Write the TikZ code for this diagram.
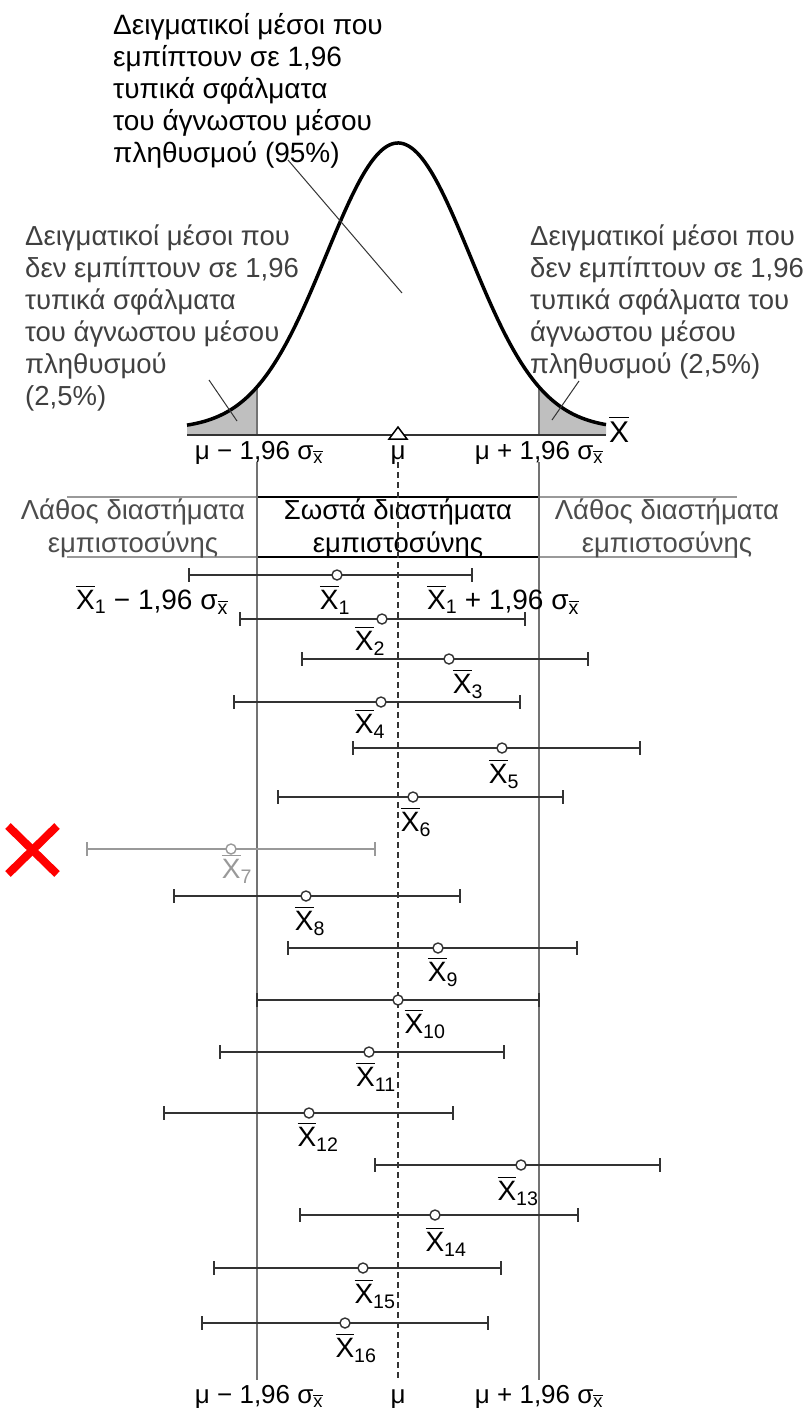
\documentclass[tikz,border=0pt]{standalone}
\usepackage{amsmath}
\usepackage{fontspec}
\setmainfont{Liberation Sans}
\usetikzlibrary{calc}

\newcommand{\xbar}[1]{$\overline{\text{X}}_{\text{#1}}$}
\newcommand{\sxbar}{σ$_{\overline{\text{x}}}$}

\begin{document}
\begin{tikzpicture}[x=1pt,y=-1pt,
    bigtext/.style={align=left,anchor=north west,inner sep=0pt,font=\fontsize{28}{32}\selectfont},
    sidetext/.style={bigtext,text=black!75,font=\fontsize{27.5}{32}\selectfont},
    bandtext/.style={align=center,inner sep=0pt,font=\fontsize{27.5}{33}\selectfont},
    axislabel/.style={anchor=base,inner sep=0pt,font=\fontsize{26}{30}\selectfont},
    meanlabel/.style={inner sep=0pt,font=\fontsize{28}{30}\selectfont},
    interval/.style={line width=2pt,black!80},
    limit/.style={line width=1.3pt,black!55}]
  \useasboundingbox (0,0) rectangle (810,1414);

  \fill[black!25] (187,435) -- plot[domain=187:257,samples=30,variable=\t] ({\t},{429-286*exp(-((\t-398)/72)^2/2)}) -- (257,435) -- cycle;
  \fill[black!25] (539,435) -- plot[domain=539:606,samples=30,variable=\t] ({\t},{429-286*exp(-((\t-398)/72)^2/2)}) -- (606,435) -- cycle;
  \draw[limit] (257,{429-286*exp(-((257-398)/72)^2/2)}) -- (257,435);
  \draw[limit] (539,{429-286*exp(-((539-398)/72)^2/2)}) -- (539,435);
  \draw[line width=3.5pt,smooth] plot[domain=187:606,samples=90,variable=\t] ({\t},{429-286*exp(-((\t-398)/72)^2/2)});
  \draw[line width=2.2pt,black!80] (187,435) -- (606,435);
  \draw[line width=1.5pt,fill=white] (389,439) -- (398,427) -- (407,439) -- cycle;
  \node[anchor=base west,inner sep=0pt,font=\fontsize{30}{30}\selectfont] (xaxis) at (609,442) {$\overline{\text{X}}$};

  \node[bigtext] (inside) at (113,13) {Δειγματικοί μέσοι που\\εμπίπτουν σε 1,96\\τυπικά σφάλματα\\του άγνωστου μέσου\\πληθυσμού (95\%)};
  \node[sidetext] (lefttail) at (25,225) {Δειγματικοί μέσοι που\\δεν εμπίπτουν σε 1,96\\τυπικά σφάλματα\\του άγνωστου μέσου\\πληθυσμού\\(2,5\%)};
  \node[sidetext] (righttail) at (530,225) {Δειγματικοί μέσοι που\\δεν εμπίπτουν σε 1,96\\τυπικά σφάλματα του\\άγνωστου μέσου\\πληθυσμού (2,5\%)};
  \coordinate (centre) at (402,293);
  \coordinate (inleft) at (237,421);
  \coordinate (inright) at (552,420);
  \draw[line width=1pt,black!80] (288,160) -- (centre);
  \draw[line width=1pt,black!80] (209,380) -- (inleft);
  \draw[line width=1pt,black!80] (579,381) -- (inright);

  \node[axislabel] (lowtop) at (259,459) {μ − 1,96 \sxbar};
  \node[axislabel] (mutop) at (398,459) {μ};
  \node[axislabel] (hightop) at (539,459) {μ + 1,96 \sxbar};

  \draw[line width=2pt,black!40] (67,497) -- (737,497);
  \draw[line width=2pt,black!40] (67,557) -- (737,557);
  \draw[line width=2.5pt] (257,497) -- (539,497);
  \draw[line width=2.5pt] (257,557) -- (539,557);
  \node[bandtext,text=black!70] (wrongl) at (133,528) {Λάθος διαστήματα\\εμπιστοσύνης};
  \node[bandtext] (right) at (398,528) {Σωστά διαστήματα\\εμπιστοσύνης};
  \node[bandtext,text=black!70] (wrongr) at (667,528) {Λάθος διαστήματα\\εμπιστοσύνης};

  \draw[limit] (257,462) -- (257,1380);
  \draw[limit] (539,462) -- (539,1380);
  \draw[line width=1.3pt,black!80,dash pattern=on 6pt off 4pt] (398,462) -- (398,1380);

  \foreach \i/\y/\l/\c/\r/\lx/\ly in {1/575/189/337/472/335/600,2/619/240/382/525/370/641,3/659/302/449/588/468/684,
      4/702/234/381/520/370/724,5/748/353/502/640/504/774,6/797/278/413/563/416/822,8/896/174/306/460/310/921,
      9/948/288/438/577/443/972,10/1000/257/398/539/425/1024,11/1052/220/369/504/376/1077,12/1113/164/309/453/318/1137,
      13/1165/375/521/660/518/1191,14/1215/300/435/578/446/1242,15/1268/214/363/501/375/1294,16/1323/202/345/488/356/1348}{
    \draw[interval] (\l,\y) -- (\r,\y);
    \draw[interval] (\l,\y-7) -- (\l,\y+7);
    \draw[interval] (\r,\y-7) -- (\r,\y+7);
    \draw[line width=1.4pt,black!80,fill=white] (\c,\y) circle (5);
    \node[meanlabel] (m\i) at (\lx,\ly) {\xbar{\i}};
  }
  \draw[interval,black!40] (87,849) -- (375,849);
  \draw[interval,black!40] (87,842) -- (87,856);
  \draw[interval,black!40] (375,842) -- (375,856);
  \draw[line width=1.4pt,black!40,fill=white] (231,849) circle (5);
  \node[meanlabel,text=black!40] (m7) at (237,869) {\xbar{7}};

  \node[axislabel,font=\fontsize{28}{30}\selectfont] (lowone) at (152,609) {\xbar{1} − 1,96 \sxbar};
  \node[axislabel,font=\fontsize{28}{30}\selectfont] (highone) at (503,609) {\xbar{1} + 1,96 \sxbar};

  \coordinate (crossa) at (8,826);
  \coordinate (crossb) at (57,874);
  \coordinate (crossc) at (57,826);
  \coordinate (crossd) at (8,874);
  \draw[red,line width=8pt] (crossa) -- (crossb);
  \draw[red,line width=8pt] (crossc) -- (crossd);

  \node[axislabel] (lowbot) at (259,1403) {μ − 1,96 \sxbar};
  \node[axislabel] (mubot) at (398,1403) {μ};
  \node[axislabel] (highbot) at (539,1403) {μ + 1,96 \sxbar};
\end{tikzpicture}
\end{document}
